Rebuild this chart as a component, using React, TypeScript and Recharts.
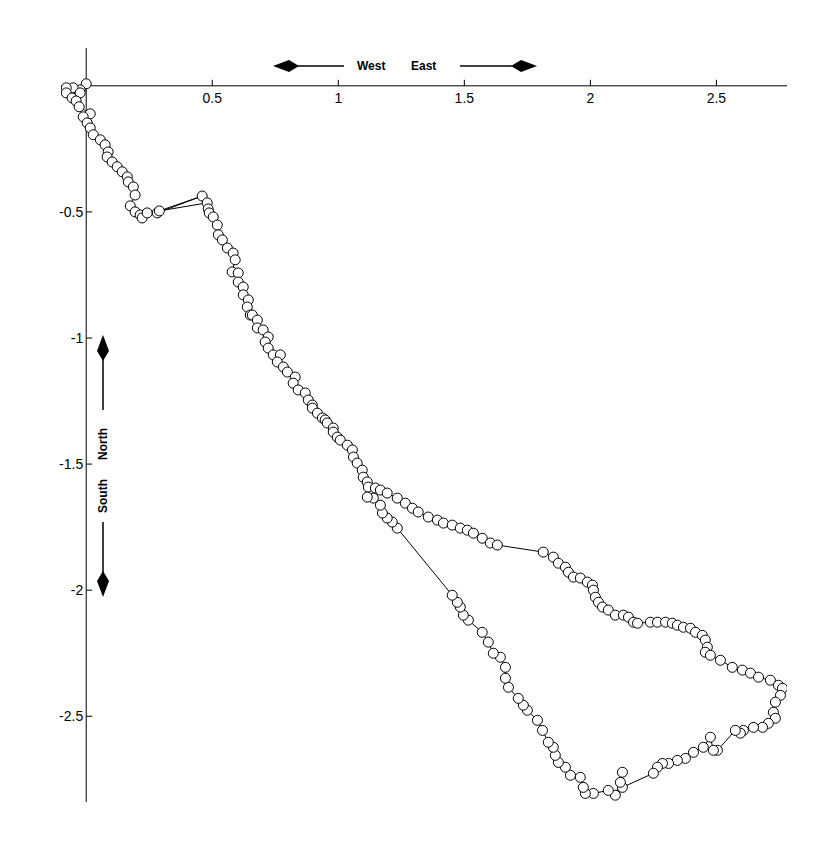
import React from 'react';
import { ScatterChart, Scatter, XAxis, YAxis, ReferenceLine, ReferenceDot } from 'recharts';

// track positions (east, north)
const startCluster: [number, number][] = [
  [0, 0.008], [-0.024, -0.016], [-0.052, -0.008], [-0.079, -0.008], [-0.079, -0.028],
  [-0.056, -0.048], [-0.024, -0.028], [-0.040, -0.060], [-0.028, -0.083], [0.016, -0.111],
  [-0.012, -0.123], [0.004, -0.147], [0.016, -0.167], [0.028, -0.194], [0.056, -0.214],
  [0.075, -0.234], [0.087, -0.262], [0.083, -0.282], [0.103, -0.302], [0.123, -0.321],
  [0.143, -0.341], [0.163, -0.361], [0.167, -0.381], [0.187, -0.401], [0.194, -0.433],
  [0.175, -0.476], [0.194, -0.500], [0.214, -0.512], [0.222, -0.524], [0.242, -0.504],
];

const westLeg: [number, number][] = [
  [0.282, -0.504], [0.460, -0.437], [0.290, -0.496], [0.480, -0.464],
  [0.484, -0.488], [0.488, -0.504], [0.504, -0.520], [0.520, -0.552], [0.524, -0.591],
  [0.540, -0.611], [0.560, -0.643], [0.583, -0.663], [0.591, -0.690], [0.579, -0.738],
  [0.603, -0.742], [0.603, -0.778], [0.623, -0.798], [0.623, -0.829],
];

const mainDiagonal: [number, number][] = [
  [0.643, -0.849], [0.639, -0.877], [0.651, -0.909], [0.659, -0.909], [0.679, -0.929],
  [0.679, -0.960], [0.702, -0.968], [0.722, -0.996], [0.710, -1.016], [0.722, -1.040],
  [0.742, -1.067], [0.770, -1.067], [0.758, -1.095], [0.782, -1.115], [0.798, -1.135],
  [0.829, -1.155], [0.821, -1.179], [0.841, -1.206], [0.869, -1.218], [0.881, -1.246],
  [0.897, -1.266], [0.897, -1.278], [0.917, -1.298], [0.937, -1.317], [0.948, -1.325],
  [0.956, -1.337], [0.980, -1.357], [0.980, -1.373], [0.996, -1.393], [1.008, -1.405],
  [1.036, -1.425], [1.056, -1.444], [1.060, -1.472], [1.075, -1.496], [1.095, -1.524],
  [1.099, -1.552], [1.115, -1.571], [1.119, -1.591],
];

const eastBranch: [number, number][] = [
  [1.147, -1.595], [1.167, -1.603], [1.194, -1.615], [1.234, -1.635], [1.266, -1.655],
  [1.294, -1.675], [1.317, -1.690], [1.357, -1.710], [1.393, -1.722], [1.417, -1.734],
  [1.452, -1.742], [1.484, -1.754], [1.512, -1.762], [1.536, -1.774], [1.571, -1.794],
  [1.603, -1.813], [1.631, -1.821], [1.813, -1.849], [1.853, -1.869], [1.873, -1.893],
  [1.901, -1.909], [1.913, -1.929], [1.933, -1.948], [1.960, -1.952], [1.988, -1.968],
  [2.008, -1.980], [2.012, -2.000], [2.020, -2.028], [2.032, -2.048], [2.048, -2.067],
  [2.071, -2.079], [2.099, -2.099], [2.131, -2.099], [2.151, -2.107], [2.171, -2.127],
  [2.187, -2.131],
];

const eastLoop: [number, number][] = [
  [2.238, -2.127], [2.266, -2.127], [2.298, -2.127], [2.325, -2.131], [2.345, -2.139],
  [2.369, -2.147], [2.397, -2.151], [2.417, -2.167], [2.444, -2.179], [2.456, -2.198],
  [2.464, -2.226], [2.456, -2.246], [2.476, -2.258], [2.516, -2.278], [2.563, -2.306],
  [2.603, -2.317], [2.635, -2.329], [2.667, -2.345], [2.714, -2.357], [2.746, -2.377],
  [2.762, -2.389], [2.754, -2.417], [2.734, -2.444], [2.726, -2.484], [2.734, -2.508],
  [2.706, -2.528], [2.683, -2.544], [2.647, -2.544], [2.607, -2.556], [2.595, -2.567],
  [2.575, -2.556], [2.504, -2.635], [2.488, -2.635], [2.476, -2.583], [2.448, -2.623],
  [2.409, -2.643], [2.377, -2.667], [2.345, -2.675], [2.310, -2.687], [2.286, -2.687],
  [2.266, -2.702], [2.250, -2.726],
];

const southLeg: [number, number][] = [
  [2.127, -2.782], [2.127, -2.722], [2.119, -2.762], [2.099, -2.813], [2.071, -2.794],
  [2.012, -2.806], [1.980, -2.806], [1.972, -2.782], [1.960, -2.742], [1.921, -2.734],
  [1.901, -2.702], [1.873, -2.683], [1.861, -2.655], [1.853, -2.623], [1.833, -2.603],
  [1.810, -2.556], [1.790, -2.516], [1.750, -2.476], [1.734, -2.456], [1.714, -2.429],
  [1.675, -2.385], [1.663, -2.349], [1.663, -2.306], [1.643, -2.266], [1.615, -2.250],
  [1.595, -2.206], [1.571, -2.167], [1.516, -2.119], [1.496, -2.099], [1.484, -2.067],
  [1.472, -2.048], [1.452, -2.020],
];

const returnLeg: [number, number][] = [
  [1.234, -1.754], [1.214, -1.730], [1.194, -1.714], [1.175, -1.694], [1.167, -1.663],
  [1.139, -1.635], [1.115, -1.631],
];

const xTicks = [0.5, 1, 1.5, 2, 2.5];
const xTickLabels = ['0.5', '1', '1.5', '2', '2.5'];
const yTicks = [-0.5, -1, -1.5, -2, -2.5];
const yTickLabels = ['-0.5', '-1', '-1.5', '-2', '-2.5'];

const track = [...startCluster, ...westLeg, ...mainDiagonal, ...eastBranch, ...eastLoop, ...southLeg, ...returnLeg]
  .map(([x, y]) => ({ x, y }));

const FONT = '"Liberation Sans", Arial, Helvetica, sans-serif';

const Ring = (props: any) => (
  <circle cx={props.cx} cy={props.cy} r={5} fill="#fff" stroke="#000" strokeWidth={1} />
);

const XTick = (label: string) => (props: any) => (
  <g>
    <line x1={props.cx} y1={props.cy} x2={props.cx} y2={props.cy - 6} stroke="#000" />
    <text x={props.cx} y={props.cy + 17} textAnchor="middle" fontSize={14} fontFamily={FONT} fill="#000">{label}</text>
  </g>
);

const YTick = (label: string) => (props: any) => (
  <g>
    <line x1={props.cx} y1={props.cy} x2={props.cx + 6} y2={props.cy} stroke="#000" />
    <text x={props.cx - 3} y={props.cy + 5} textAnchor="end" fontSize={14} fontFamily={FONT} fill="#000">{label}</text>
  </g>
);

// kite shaped arrow head, tip at (0,0), pointing to -x
const head = 'M0,0 L16,-6 L26,0 L16,6 Z';

const Compass = () => (
  <svg width={837} height={851} style={{ position: 'absolute', left: 0, top: 0, pointerEvents: 'none' }}>
    <g fontFamily={FONT} fontWeight="bold" fontSize={12} fill="#000">
      <path d={head} transform="translate(273,66)" />
      <line x1={296} y1={66} x2={344} y2={66} stroke="#000" strokeWidth={1.5} />
      <text x={357} y={70}>West</text>
      <text x={411} y={70}>East</text>
      <line x1={460} y1={66} x2={512} y2={66} stroke="#000" strokeWidth={1.5} />
      <path d={head} transform="translate(537,66) rotate(180)" />

      <path d={head} transform="translate(103,335) rotate(90)" />
      <line x1={103} y1={358} x2={103} y2={410} stroke="#000" strokeWidth={1.5} />
      <text transform="translate(107,460) rotate(-90)">North</text>
      <text transform="translate(107,513) rotate(-90)">South</text>
      <line x1={103} y1={522} x2={103} y2={575} stroke="#000" strokeWidth={1.5} />
      <path d={head} transform="translate(103,597) rotate(-90)" />
    </g>
  </svg>
);

export default function App() {
  return (
    <div style={{ position: 'absolute', left: 0, top: 0, width: 837, height: 851, background: '#fff' }}>
      <div style={{ position: 'absolute', left: 0, top: 0 }}>
        <ScatterChart width={820} height={834} margin={{ top: 48, left: 61, right: 33, bottom: 32 }}>
          <XAxis type="number" dataKey="x" domain={[-0.1, 2.78]} allowDataOverflow hide />
          <YAxis type="number" dataKey="y" domain={[-2.84, 0.15]} allowDataOverflow hide />
          <ReferenceLine y={0} stroke="#000" strokeWidth={1} />
          <ReferenceLine x={0} stroke="#000" strokeWidth={1} />
          {xTicks.map((v, i) => (
            <ReferenceDot key={'x' + v} x={v} y={0} r={0} shape={XTick(xTickLabels[i])} />
          ))}
          {yTicks.map((v, i) => (
            <ReferenceDot key={'y' + v} x={0} y={v} r={0} shape={YTick(yTickLabels[i])} />
          ))}
          <Scatter
            data={track}
            line={{ stroke: '#000', strokeWidth: 1 }}
            lineType="joint"
            shape={Ring}
            isAnimationActive={false}
          />
        </ScatterChart>
      </div>
      <Compass />
    </div>
  );
}
